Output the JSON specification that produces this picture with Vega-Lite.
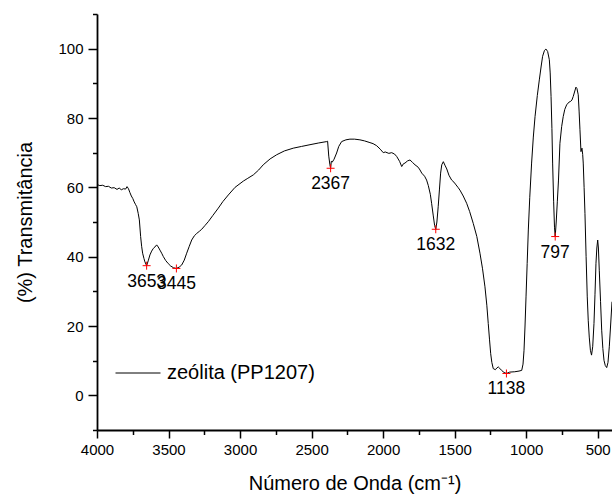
{
  "$schema": "https://vega.github.io/schema/vega-lite/v6.json",
  "width": 515,
  "height": 416,
  "autosize": {"type": "none"},
  "padding": {"left": 97, "top": 14, "right": 0, "bottom": 67},
  "background": "white",
  "config": {
    "view": {"stroke": null},
    "font": "Liberation Sans",
    "axis": {
      "grid": false,
      "domainColor": "black",
      "tickColor": "black",
      "labelColor": "black",
      "titleColor": "black",
      "labelFont": "Liberation Sans",
      "titleFont": "Liberation Sans",
      "titleFontWeight": "normal",
      "labelFontSize": 15,
      "titleFontSize": 20,
      "domainWidth": 1.8,
      "tickWidth": 1.5
    }
  },
  "datasets": {
    "spectrum": [
      {"wn": 4000, "t": 60.8}, {"wn": 3980, "t": 60.5}, {"wn": 3960, "t": 60.6}, {"wn": 3940, "t": 60.2},
      {"wn": 3920, "t": 60.3}, {"wn": 3900, "t": 59.8}, {"wn": 3880, "t": 59.9}, {"wn": 3860, "t": 59.4},
      {"wn": 3845, "t": 59.8}, {"wn": 3830, "t": 59.3}, {"wn": 3815, "t": 59.6}, {"wn": 3800, "t": 59.5},
      {"wn": 3790, "t": 60.2}, {"wn": 3780, "t": 59.6}, {"wn": 3770, "t": 58.5}, {"wn": 3760, "t": 57.5},
      {"wn": 3750, "t": 56.8}, {"wn": 3740, "t": 55.8}, {"wn": 3730, "t": 55.0}, {"wn": 3722, "t": 54.4},
      {"wn": 3712, "t": 52.5}, {"wn": 3704, "t": 50.6}, {"wn": 3695, "t": 45.8}, {"wn": 3688, "t": 43.0},
      {"wn": 3681, "t": 41.0}, {"wn": 3672, "t": 39.5}, {"wn": 3665, "t": 38.5}, {"wn": 3653, "t": 37.4},
      {"wn": 3642, "t": 38.8}, {"wn": 3630, "t": 40.5}, {"wn": 3618, "t": 41.6}, {"wn": 3606, "t": 42.4},
      {"wn": 3595, "t": 42.8}, {"wn": 3583, "t": 43.4}, {"wn": 3572, "t": 42.8}, {"wn": 3560, "t": 41.9},
      {"wn": 3548, "t": 41.0}, {"wn": 3536, "t": 40.0}, {"wn": 3520, "t": 38.9}, {"wn": 3502, "t": 38.0},
      {"wn": 3485, "t": 37.3}, {"wn": 3465, "t": 36.8}, {"wn": 3445, "t": 36.6}, {"wn": 3425, "t": 37.0},
      {"wn": 3408, "t": 37.6}, {"wn": 3390, "t": 39.0}, {"wn": 3373, "t": 41.0}, {"wn": 3355, "t": 43.0},
      {"wn": 3338, "t": 44.8}, {"wn": 3320, "t": 46.0}, {"wn": 3303, "t": 46.7}, {"wn": 3285, "t": 47.3},
      {"wn": 3268, "t": 47.9}, {"wn": 3245, "t": 49.0}, {"wn": 3222, "t": 50.1}, {"wn": 3190, "t": 51.9},
      {"wn": 3152, "t": 54.0}, {"wn": 3120, "t": 55.9}, {"wn": 3082, "t": 57.8}, {"wn": 3035, "t": 60.0},
      {"wn": 2977, "t": 61.8}, {"wn": 2950, "t": 62.5}, {"wn": 2907, "t": 63.6}, {"wn": 2870, "t": 65.0},
      {"wn": 2838, "t": 66.5}, {"wn": 2790, "t": 68.2}, {"wn": 2744, "t": 69.4}, {"wn": 2690, "t": 70.5},
      {"wn": 2628, "t": 71.3}, {"wn": 2570, "t": 71.8}, {"wn": 2511, "t": 72.3}, {"wn": 2450, "t": 72.8},
      {"wn": 2394, "t": 73.2}, {"wn": 2388, "t": 73.3}, {"wn": 2380, "t": 69.0}, {"wn": 2372, "t": 66.5},
      {"wn": 2367, "t": 65.5}, {"wn": 2362, "t": 67.5}, {"wn": 2355, "t": 67.3}, {"wn": 2343, "t": 68.1},
      {"wn": 2325, "t": 69.9}, {"wn": 2310, "t": 71.8}, {"wn": 2290, "t": 73.2}, {"wn": 2260, "t": 73.7},
      {"wn": 2232, "t": 73.9}, {"wn": 2200, "t": 73.9}, {"wn": 2162, "t": 73.7}, {"wn": 2130, "t": 73.4},
      {"wn": 2092, "t": 72.9}, {"wn": 2070, "t": 72.6}, {"wn": 2045, "t": 72.0}, {"wn": 2020, "t": 71.0},
      {"wn": 1999, "t": 70.0}, {"wn": 1985, "t": 70.2}, {"wn": 1960, "t": 69.8}, {"wn": 1940, "t": 70.0},
      {"wn": 1920, "t": 69.6}, {"wn": 1905, "t": 68.9}, {"wn": 1885, "t": 67.5}, {"wn": 1870, "t": 66.0},
      {"wn": 1858, "t": 66.8}, {"wn": 1847, "t": 67.0}, {"wn": 1830, "t": 67.6}, {"wn": 1812, "t": 67.9},
      {"wn": 1795, "t": 67.2}, {"wn": 1777, "t": 66.5}, {"wn": 1755, "t": 65.8}, {"wn": 1742, "t": 65.0},
      {"wn": 1730, "t": 64.1}, {"wn": 1710, "t": 63.2}, {"wn": 1696, "t": 62.1}, {"wn": 1684, "t": 60.5},
      {"wn": 1670, "t": 58.0}, {"wn": 1661, "t": 55.4}, {"wn": 1650, "t": 52.0}, {"wn": 1640, "t": 49.0},
      {"wn": 1632, "t": 47.9}, {"wn": 1624, "t": 50.0}, {"wn": 1615, "t": 54.4}, {"wn": 1606, "t": 59.5},
      {"wn": 1598, "t": 64.1}, {"wn": 1590, "t": 66.5}, {"wn": 1579, "t": 67.4}, {"wn": 1568, "t": 66.4},
      {"wn": 1555, "t": 65.3}, {"wn": 1540, "t": 63.5}, {"wn": 1521, "t": 62.1}, {"wn": 1505, "t": 61.5},
      {"wn": 1490, "t": 60.7}, {"wn": 1475, "t": 59.9}, {"wn": 1463, "t": 59.2}, {"wn": 1440, "t": 57.5},
      {"wn": 1416, "t": 55.4}, {"wn": 1395, "t": 53.0}, {"wn": 1370, "t": 49.6}, {"wn": 1345, "t": 45.8},
      {"wn": 1323, "t": 41.0}, {"wn": 1305, "t": 36.5}, {"wn": 1288, "t": 31.3}, {"wn": 1275, "t": 26.0},
      {"wn": 1265, "t": 20.7}, {"wn": 1256, "t": 16.0}, {"wn": 1248, "t": 12.0}, {"wn": 1240, "t": 9.5},
      {"wn": 1230, "t": 7.7}, {"wn": 1215, "t": 7.4}, {"wn": 1205, "t": 7.9}, {"wn": 1195, "t": 8.2},
      {"wn": 1185, "t": 7.8}, {"wn": 1172, "t": 7.2}, {"wn": 1155, "t": 6.6}, {"wn": 1138, "t": 6.3},
      {"wn": 1115, "t": 6.7}, {"wn": 1080, "t": 6.8}, {"wn": 1050, "t": 7.0}, {"wn": 1031, "t": 7.2},
      {"wn": 1022, "t": 9.0}, {"wn": 1015, "t": 13.0}, {"wn": 1008, "t": 20.0}, {"wn": 1001, "t": 28.4},
      {"wn": 993, "t": 38.0}, {"wn": 985, "t": 47.7}, {"wn": 975, "t": 57.0}, {"wn": 962, "t": 67.0},
      {"wn": 950, "t": 74.5}, {"wn": 938, "t": 80.4}, {"wn": 922, "t": 86.5}, {"wn": 908, "t": 91.0},
      {"wn": 895, "t": 95.0}, {"wn": 885, "t": 97.8}, {"wn": 872, "t": 99.5}, {"wn": 862, "t": 99.9},
      {"wn": 850, "t": 99.2}, {"wn": 838, "t": 96.8}, {"wn": 832, "t": 93.0}, {"wn": 826, "t": 86.2},
      {"wn": 820, "t": 77.0}, {"wn": 815, "t": 67.0}, {"wn": 808, "t": 56.0}, {"wn": 802, "t": 48.5},
      {"wn": 797, "t": 45.8}, {"wn": 790, "t": 50.0}, {"wn": 782, "t": 56.0}, {"wn": 774, "t": 62.1},
      {"wn": 764, "t": 72.7}, {"wn": 752, "t": 77.5}, {"wn": 741, "t": 80.4}, {"wn": 730, "t": 82.5},
      {"wn": 717, "t": 83.8}, {"wn": 700, "t": 84.6}, {"wn": 689, "t": 84.8}, {"wn": 680, "t": 85.2},
      {"wn": 671, "t": 86.2}, {"wn": 662, "t": 87.5}, {"wn": 652, "t": 88.9}, {"wn": 645, "t": 88.5},
      {"wn": 636, "t": 86.7}, {"wn": 630, "t": 82.0}, {"wn": 624, "t": 76.6}, {"wn": 617, "t": 70.3},
      {"wn": 610, "t": 71.3}, {"wn": 605, "t": 69.5}, {"wn": 601, "t": 67.0}, {"wn": 595, "t": 60.0},
      {"wn": 589, "t": 52.5}, {"wn": 581, "t": 40.0}, {"wn": 573, "t": 28.4}, {"wn": 566, "t": 21.5},
      {"wn": 559, "t": 16.8}, {"wn": 551, "t": 13.0}, {"wn": 543, "t": 11.6}, {"wn": 535, "t": 14.0},
      {"wn": 526, "t": 20.7}, {"wn": 519, "t": 29.0}, {"wn": 512, "t": 38.1}, {"wn": 506, "t": 42.5},
      {"wn": 500, "t": 44.8}, {"wn": 495, "t": 42.5}, {"wn": 489, "t": 36.1}, {"wn": 480, "t": 27.0},
      {"wn": 472, "t": 18.8}, {"wn": 464, "t": 13.5}, {"wn": 456, "t": 10.1}, {"wn": 447, "t": 8.6},
      {"wn": 437, "t": 8.0}, {"wn": 428, "t": 9.5}, {"wn": 419, "t": 14.0}, {"wn": 410, "t": 20.0},
      {"wn": 400, "t": 27.0}
    ],
    "peaks": [
      {"wn": 3653, "t": 37.4, "label": "3653"},
      {"wn": 3445, "t": 36.6, "label": "3445"},
      {"wn": 2367, "t": 65.5, "label": "2367"},
      {"wn": 1632, "t": 47.9, "label": "1632"},
      {"wn": 1138, "t": 6.3, "label": "1138"},
      {"wn": 797, "t": 45.8, "label": "797"}
    ]
  },
  "resolve": {
    "scale": {"x": "independent", "y": "independent"},
    "axis": {"x": "independent", "y": "independent"}
  },
  "layer": [
    {
      "data": {"name": "spectrum"},
      "mark": {"type": "line", "strokeWidth": 1, "clip": true},
      "encoding": {
        "x": {
          "field": "wn", "type": "quantitative",
          "scale": {"domain": [400, 4000], "reverse": true, "nice": false, "zero": false},
          "axis": {
            "orient": "bottom",
            "values": [4000, 3500, 3000, 2500, 2000, 1500, 1000, 500],
            "format": "d",
            "tickSize": 8, "labelPadding": 4, "labelFlush": false, "labelOverlap": false,
            "title": "Número de Onda (cm⁻¹)", "titlePadding": 16
          }
        },
        "y": {
          "field": "t", "type": "quantitative",
          "scale": {"domain": [-10, 110], "nice": false, "zero": false},
          "axis": {
            "orient": "left",
            "values": [0, 20, 40, 60, 80, 100],
            "format": "d",
            "tickSize": 9, "labelPadding": 5, "labelFlush": false, "labelOverlap": false,
            "title": "(%) Transmitância", "titlePadding": 22
          }
        },
        "color": {
          "datum": "zeólita (PP1207)",
          "scale": {"range": ["black"]},
          "legend": {
            "orient": "none", "legendX": 18, "legendY": 336, "title": null,
            "symbolType": "stroke", "symbolSize": 2025, "symbolStrokeWidth": 1,
            "labelFontSize": 20, "labelFont": "Liberation Sans", "labelColor": "black",
            "labelOffset": 6, "padding": 0
          }
        }
      }
    },
    {
      "data": {"name": "peaks"},
      "mark": {"type": "point", "shape": "M-1,0H1M0,-1V1", "size": 64, "filled": false, "stroke": "#ff0000", "strokeWidth": 1, "opacity": 1},
      "encoding": {
        "x": {
          "field": "wn", "type": "quantitative",
          "scale": {"domain": [400, 4000], "reverse": true, "nice": false, "zero": false},
          "axis": {
            "orient": "bottom", "values": [3750, 3250, 2750, 2250, 1750, 1250, 750],
            "tickSize": 4.5, "labels": false, "domain": false, "title": null
          }
        },
        "y": {
          "field": "t", "type": "quantitative",
          "scale": {"domain": [-10, 110], "nice": false, "zero": false},
          "axis": {
            "orient": "left", "values": [-10, 10, 30, 50, 70, 90, 110],
            "tickSize": 4.5, "labels": false, "domain": false, "title": null
          }
        }
      }
    },
    {
      "data": {"name": "peaks"},
      "mark": {"type": "text", "fontSize": 17.5, "font": "Liberation Sans", "color": "black", "align": "center", "baseline": "alphabetic", "dy": 21},
      "encoding": {
        "x": {
          "field": "wn", "type": "quantitative",
          "scale": {"domain": [400, 4000], "reverse": true, "nice": false, "zero": false},
          "axis": null
        },
        "y": {
          "field": "t", "type": "quantitative",
          "scale": {"domain": [-10, 110], "nice": false, "zero": false},
          "axis": null
        },
        "text": {"field": "label"}
      }
    }
  ]
}
